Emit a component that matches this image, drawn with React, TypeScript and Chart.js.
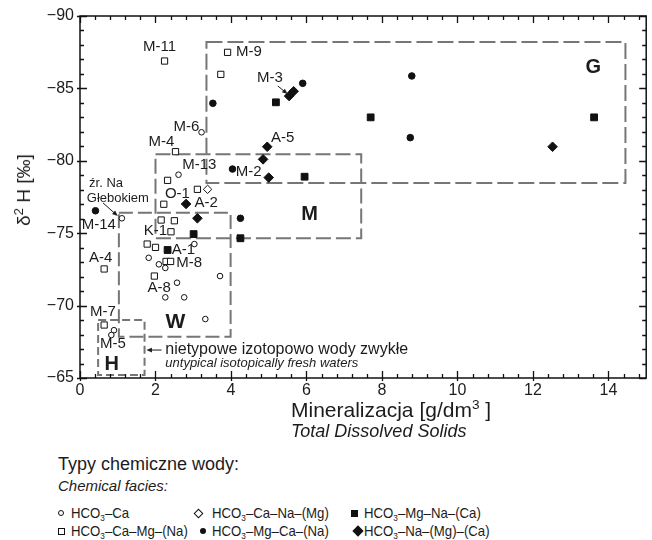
import React, { useEffect, useRef } from 'react';
import { Chart, registerables } from 'chart.js';

Chart.register(...registerables);

const FONT = '"Liberation Sans", Arial, Helvetica, sans-serif';
const INK = '#1c1c1c';

// ---------- data ----------
const seriesNames = [
  'HCO3–Ca',
  'HCO3–Ca–Mg–(Na)',
  'HCO3–Ca–Na–(Mg)',
  'HCO3–Mg–Ca–(Na)',
  'HCO3–Mg–Na–(Ca)',
  'HCO3–Na–(Mg)–(Ca)',
];

// HCO3–Ca (open circles)
const caX = [3.22, 2.61, 1.11, 3.03, 1.82, 2.09, 2.26, 3.71, 2.57, 2.26, 2.76, 3.32, 0.9, 0.83];
const caY = [-81.97, -79.04, -76.03, -74.25, -73.3, -72.85, -72.6, -72.04, -71.58, -70.57, -70.57, -69.07, -68.3, -67.97];

// HCO3–Ca–Mg–(Na) (open squares)
const caMgX = [2.24, 3.91, 3.73, 2.53, 2.32, 3.11, 2.22, 2.15, 2.5, 2.41, 1.78, 2.0, 2.28, 2.4, 1.97, 0.64, 0.64];
const caMgY = [-86.89, -87.49, -85.97, -80.63, -78.65, -78.03, -77.0, -75.91, -75.86, -75.1, -74.25, -74.02, -73.05, -73.05, -72.04, -72.53, -68.66];

// HCO3–Ca–Na–(Mg) (open diamonds)
const caNaX = [3.38];
const caNaY = [-78.03];

// HCO3–Mg–Ca–(Na) (filled circles)
const mgCaX = [3.52, 4.04, 5.9, 8.79, 8.75, 4.25, 0.41];
const mgCaY = [-83.97, -79.43, -85.35, -85.86, -81.6, -76.03, -76.55];

// HCO3–Mg–Na–(Ca) (filled squares)
const mgNaX = [5.19, 7.7, 13.62, 5.95, 3.01, 2.32, 4.25];
const mgNaY = [-84.04, -83.0, -83.0, -78.9, -74.94, -73.84, -74.65];

// HCO3–Na–(Mg)–(Ca) (filled diamonds)
const naX = [5.54, 5.66, 4.96, 4.85, 5.0, 12.52, 2.81, 3.11];
const naY = [-84.47, -84.8, -80.97, -80.1, -78.84, -80.97, -77.02, -76.03];

// zones
const zoneNames = ['G', 'M', 'W', 'H'];
const zoneXMin = [3.35, 2.0, 1.03, 0.48];
const zoneXMax = [14.45, 7.45, 3.99, 1.71];
const zoneYTop = [-88.2, -80.45, -76.42, -69.0];
const zoneYBottom = [-78.47, -74.65, -67.85, -65.2];
const zoneLabelX = [13.6, 6.08, 2.53, 0.84];
const zoneLabelY = [-86.41, -76.26, -68.87, -65.9];

// sample labels
const sampleNames = ['M-11', 'M-9', 'M-3', 'M-6', 'M-4', 'M-13', 'M-2', 'A-5', 'M-14', 'O-1', 'A-2', 'K-1', 'A-1', 'M-8', 'A-4', 'A-8', 'M-7', 'M-5'];
const sampleLabelX = [2.105, 4.13, 5.03, 2.82, 2.16, 3.16, 4.47, 5.37, 0.5, 2.58, 3.34, 2.0, 2.74, 2.89, 0.55, 2.1, 0.61, 0.87];
const sampleLabelY = [-87.86, -87.51, -85.72, -82.33, -81.3, -79.71, -79.23, -81.57, -75.57, -77.71, -77.09, -75.15, -73.84, -72.94, -73.29, -71.22, -69.56, -67.35];

// axis ranges
const xMin = 0;
const xMax = 15;
const yMin = -90;
const yMax = -65;

// ---------- helpers ----------
function pts(xs: number[], ys: number[]) {
  return xs.map((x, i) => ({ x, y: ys[i] }));
}

function arrow(ctx: CanvasRenderingContext2D, x1: number, y1: number, x2: number, y2: number) {
  const ang = Math.atan2(y2 - y1, x2 - x1);
  const h = 6;
  ctx.beginPath();
  ctx.moveTo(x1, y1);
  ctx.lineTo(x2 - Math.cos(ang) * h * 0.8, y2 - Math.sin(ang) * h * 0.8);
  ctx.stroke();
  ctx.beginPath();
  ctx.moveTo(x2, y2);
  ctx.lineTo(x2 - h * Math.cos(ang - 0.4), y2 - h * Math.sin(ang - 0.4));
  ctx.lineTo(x2 - h * Math.cos(ang + 0.4), y2 - h * Math.sin(ang + 0.4));
  ctx.closePath();
  ctx.fill();
}

const decorPlugin = {
  id: 'decor',
  beforeDatasetsDraw(chart: any) {
    const { ctx, scales } = chart;
    const x = scales.x;
    const y = scales.y;
    const dashes = [[16, 5], [15, 5], [14, 5], [8, 4]];
    ctx.save();
    ctx.strokeStyle = '#767676';
    ctx.lineWidth = 2;
    zoneNames.forEach((_, i) => {
      ctx.setLineDash(dashes[i]);
      const l = x.getPixelForValue(zoneXMin[i]);
      const r = x.getPixelForValue(zoneXMax[i]);
      const t = y.getPixelForValue(zoneYTop[i]);
      const b = y.getPixelForValue(zoneYBottom[i]);
      ctx.strokeRect(l, t, r - l, b - t);
    });
    ctx.restore();
  },
  afterDatasetsDraw(chart: any) {
    const { ctx, scales } = chart;
    const x = scales.x;
    const y = scales.y;
    ctx.save();
    ctx.fillStyle = INK;
    ctx.strokeStyle = INK;
    ctx.textBaseline = 'middle';
    ctx.textAlign = 'center';
    ctx.font = `15px ${FONT}`;
    sampleNames.forEach((n, i) => {
      const px = x.getPixelForValue(sampleLabelX[i]);
      const py = y.getPixelForValue(sampleLabelY[i]);
      if (n === 'M-9') {
        ctx.textAlign = 'left';
        ctx.fillText(n, px, py);
        ctx.textAlign = 'center';
      } else {
        ctx.fillText(n, px, py);
      }
    });
    ctx.textAlign = 'left';
    ctx.font = `13px ${FONT}`;
    ctx.fillText('źr. Na', x.getPixelForValue(0.24), y.getPixelForValue(-78.47));
    ctx.fillText('Głebokiem', x.getPixelForValue(0.18), y.getPixelForValue(-77.43));
    ctx.font = `16px ${FONT}`;
    ctx.fillText('nietypowe izotopowo wody zwykłe', x.getPixelForValue(2.26), y.getPixelForValue(-66.93));
    ctx.font = `italic 13px ${FONT}`;
    ctx.fillText('untypical isotopically fresh waters', x.getPixelForValue(2.26), y.getPixelForValue(-66.03));

    ctx.textAlign = 'center';
    zoneNames.forEach((n, i) => {
      ctx.font = `bold ${n === 'W' ? 21 : 20}px ${FONT}`;
      ctx.fillText(n, x.getPixelForValue(zoneLabelX[i]), y.getPixelForValue(zoneLabelY[i]));
    });

    ctx.lineWidth = 1;
    arrow(ctx, x.getPixelForValue(5.24), y.getPixelForValue(-85.17), x.getPixelForValue(5.5), y.getPixelForValue(-84.61));
    arrow(ctx, x.getPixelForValue(0.61), y.getPixelForValue(-77.09), x.getPixelForValue(1.0), y.getPixelForValue(-76.19));
    arrow(ctx, x.getPixelForValue(2.16), y.getPixelForValue(-66.93), x.getPixelForValue(1.76), y.getPixelForValue(-66.93));
    ctx.restore();
  },
  afterDraw(chart: any) {
    const { ctx, chartArea: a, scales } = chart;
    const x = scales.x;
    const y = scales.y;
    ctx.save();
    ctx.strokeStyle = '#111';
    ctx.lineWidth = 1.5;
    ctx.setLineDash([]);
    ctx.strokeRect(a.left, a.top, a.right - a.left, a.bottom - a.top);
    ctx.lineWidth = 1.3;
    ctx.beginPath();
    for (let i = 0; i * 0.4 <= xMax + 1e-9; i++) {
      const v = i * 0.4;
      const px = Math.round(x.getPixelForValue(v)) + 0.5;
      const major = i % 5 === 0;
      ctx.moveTo(px, a.bottom + (major ? 3 : 0));
      ctx.lineTo(px, a.bottom - (major ? 7 : 4));
      ctx.moveTo(px, a.top);
      ctx.lineTo(px, a.top + (major ? 7 : 4));
    }
    for (let v = yMin; v <= yMax; v++) {
      const py = Math.round(y.getPixelForValue(v)) + 0.5;
      const major = v % 5 === 0;
      ctx.moveTo(a.left - (major ? 3 : 0), py);
      ctx.lineTo(a.left + (major ? 7 : 4), py);
      ctx.moveTo(a.right, py);
      ctx.lineTo(a.right - (major ? 7 : 4), py);
    }
    ctx.stroke();
    ctx.restore();
  },
};

function Sym({ kind, cx, cy }: { kind: string; cx: number; cy: number }) {
  const base: React.CSSProperties = { position: 'absolute', boxSizing: 'border-box' };
  let s: React.CSSProperties = {};
  if (kind === 'oc') s = { width: 6, height: 6, border: '1px solid #111', borderRadius: '50%', background: '#fff', left: cx - 3, top: cy - 3 };
  if (kind === 'os') s = { width: 7, height: 7, border: '1px solid #111', background: '#fff', left: cx - 3.5, top: cy - 3.5 };
  if (kind === 'od') s = { width: 7, height: 7, border: '1px solid #111', background: '#fff', left: cx - 3.5, top: cy - 3.5, transform: 'rotate(45deg)' };
  if (kind === 'fc') s = { width: 6, height: 6, borderRadius: '50%', background: '#111', left: cx - 3, top: cy - 3 };
  if (kind === 'fs') s = { width: 7, height: 7, background: '#111', left: cx - 3.5, top: cy - 3.5 };
  if (kind === 'fd') s = { width: 8, height: 8, background: '#111', left: cx - 4, top: cy - 4, transform: 'rotate(45deg)' };
  return <div style={{ ...base, ...s }} />;
}

function LegendText({ left, cy, rest }: { left: number; cy: number; rest: string }) {
  return (
    <div
      style={{
        position: 'absolute',
        left,
        top: cy - 10,
        height: 20,
        lineHeight: '20px',
        fontSize: 15,
        whiteSpace: 'nowrap',
        transform: 'scaleX(0.88)',
        transformOrigin: 'left center',
      }}
    >
      HCO<sub style={{ fontSize: '0.62em', verticalAlign: '-0.3em', lineHeight: 0 }}>3</sub>
      {rest}
    </div>
  );
}

export default function App() {
  const ref = useRef<HTMLCanvasElement>(null);
  useEffect(() => {
    const common = { borderColor: '#111', borderWidth: 1, showLine: false };
    const chart = new Chart(ref.current as HTMLCanvasElement, {
      type: 'scatter',
      data: {
        datasets: [
          { ...common, label: seriesNames[0], data: pts(caX, caY), pointStyle: 'circle', pointRadius: 2.8, backgroundColor: '#fff' },
          { ...common, label: seriesNames[1], data: pts(caMgX, caMgY), pointStyle: 'rect', pointRadius: 4.4, backgroundColor: '#fff' },
          { ...common, label: seriesNames[2], data: pts(caNaX, caNaY), pointStyle: 'rectRot', pointRadius: 4.2, backgroundColor: '#fff' },
          { ...common, label: seriesNames[3], data: pts(mgCaX, mgCaY), pointStyle: 'circle', pointRadius: 3.3, backgroundColor: '#111' },
          { ...common, label: seriesNames[4], data: pts(mgNaX, mgNaY), pointStyle: 'rect', pointRadius: 4.8, backgroundColor: '#111' },
          { ...common, label: seriesNames[5], data: pts(naX, naY), pointStyle: 'rectRot', pointRadius: 4.8, backgroundColor: '#111' },
        ] as any,
      },
      options: {
        animation: false,
        responsive: false,
        devicePixelRatio: 1,
        layout: { padding: { top: 16, right: 2, left: 0, bottom: 0 } },
        plugins: { legend: { display: false }, tooltip: { enabled: false } },
        scales: {
          x: {
            type: 'linear',
            min: xMin,
            max: xMax,
            grid: { display: false, drawTicks: false },
            border: { display: false },
            ticks: {
              stepSize: 2,
              includeBounds: false,
              autoSkip: false,
              maxRotation: 0,
              padding: 3,
              color: INK,
              font: { size: 16, family: FONT },
              callback: (v: any) => String(v),
            },
            afterFit: (s: any) => {
              s.height = 22;
            },
          },
          y: {
            type: 'linear',
            min: yMin,
            max: yMax,
            reverse: true,
            grid: { display: false, drawTicks: false },
            border: { display: false },
            ticks: {
              stepSize: 5,
              autoSkip: false,
              padding: 6,
              color: INK,
              font: { size: 16, family: FONT },
              callback: (v: any) => (Number(v) < 0 ? '−' + Math.abs(Number(v)) : String(v)),
            },
            afterFit: (s: any) => {
              s.width = 80;
            },
          },
        },
      } as any,
      plugins: [decorPlugin],
    });
    return () => chart.destroy();
  }, []);

  const legendRest = ['–Ca', '–Ca–Mg–(Na)', '–Ca–Na–(Mg)', '–Mg–Ca–(Na)', '–Mg–Na–(Ca)', '–Na–(Mg)–(Ca)'];

  return (
    <div
      style={{
        position: 'absolute',
        left: 0,
        top: 0,
        width: 652,
        height: 540,
        background: '#fff',
        fontFamily: FONT,
        color: INK,
        overflow: 'hidden',
      }}
    >
      <canvas ref={ref} width={652} height={400} style={{ position: 'absolute', left: 0, top: 0, width: 652, height: 400 }} />

      {/* y-axis title */}
      <div
        style={{
          position: 'absolute',
          left: 24,
          top: 190,
          fontSize: 19,
          lineHeight: '22px',
          whiteSpace: 'nowrap',
          transform: 'translate(-50%, -50%) rotate(-90deg)',
        }}
      >
        δ<sup style={{ fontSize: '0.7em', verticalAlign: '0.5em', lineHeight: 0 }}>2</sup> H [‰]
      </div>

      {/* x-axis title */}
      <div style={{ position: 'absolute', left: 291, top: 398, fontSize: 21, lineHeight: '24px', whiteSpace: 'nowrap' }}>
        Mineralizacja [g/dm<sup style={{ fontSize: '0.65em', verticalAlign: '0.6em', lineHeight: 0 }}>3</sup> ]
      </div>
      <div style={{ position: 'absolute', left: 291, top: 421, fontSize: 18, lineHeight: '20px', fontStyle: 'italic', whiteSpace: 'nowrap' }}>
        Total Dissolved Solids
      </div>

      {/* legend */}
      <div style={{ position: 'absolute', left: 58, top: 453, fontSize: 18, lineHeight: '22px', whiteSpace: 'nowrap' }}>
        Typy chemiczne wody:
      </div>
      <div style={{ position: 'absolute', left: 58, top: 476, fontSize: 15, lineHeight: '20px', fontStyle: 'italic', whiteSpace: 'nowrap' }}>
        Chemical facies:
      </div>

      <Sym kind="oc" cx={61} cy={513} />
      <LegendText left={71} cy={513} rest={legendRest[0]} />
      <Sym kind="os" cx={61} cy={531} />
      <LegendText left={71} cy={531} rest={legendRest[1]} />

      <Sym kind="od" cx={198} cy={513} />
      <LegendText left={212} cy={513} rest={legendRest[2]} />
      <Sym kind="fc" cx={203} cy={531} />
      <LegendText left={212} cy={531} rest={legendRest[3]} />

      <Sym kind="fs" cx={354} cy={513} />
      <LegendText left={364} cy={513} rest={legendRest[4]} />
      <Sym kind="fd" cx={358} cy={531} />
      <LegendText left={364} cy={531} rest={legendRest[5]} />
    </div>
  );
}
